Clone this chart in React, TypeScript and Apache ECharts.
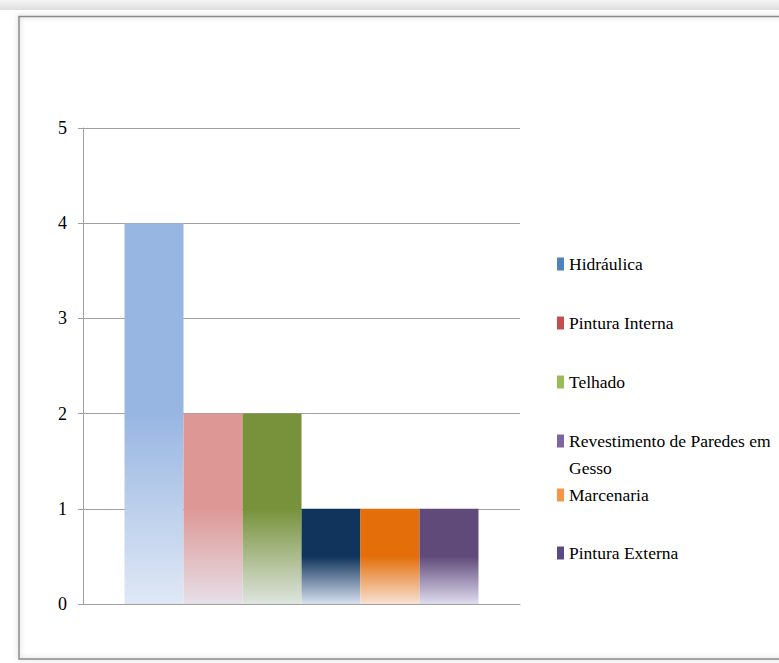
import React, { useEffect, useRef } from "react";
import * as echarts from "echarts";

const seriesNames = [
  "Hidráulica",
  "Pintura Interna",
  "Telhado",
  "Revestimento de Paredes em Gesso",
  "Marcenaria",
  "Pintura Externa",
];
const seriesValues = [4, 2, 2, 1, 1, 1];
const barTopColors = ["#98b6e2", "#dd9896", "#77923a", "#10345c", "#e46f0a", "#604a7a"];
const barBottomColors = ["#e0e8f5", "#e6dfe8", "#dfe5df", "#d8e1f0", "#f7e2d3", "#dfdcef"];
const legendColors = ["#4f81bd", "#c0504d", "#9bbb59", "#8064a2", "#f79646", "#5a4a82"];
const legendCenters = [264, 323, 382, 441, 495, 553];
const yTicks = { min: 0, max: 5, interval: 1 };

const WRAP_NAME = "Revestimento de Paredes em Gesso";
const WRAP_FIRST = "Revestimento de Paredes em";
const WRAP_SECOND = "Gesso";

export default function App() {
  const ref = useRef<HTMLDivElement>(null);
  useEffect(() => {
    if (!ref.current) return;
    const chart = echarts.init(ref.current, null, { renderer: "svg" });
    const font = "'Liberation Serif', 'Times New Roman', serif";

    const legends = seriesNames.map((name, i) => ({
      orient: "vertical",
      left: 557,
      top: legendCenters[i] - 13.5,
      padding: 0,
      itemWidth: 7,
      itemHeight: 13,
      itemGap: 0,
      icon: "rect",
      selectedMode: false,
      data: [{ name, itemStyle: { color: legendColors[i] } }],
      formatter: (n: string) => (n === WRAP_NAME ? WRAP_FIRST : n),
      textStyle: {
        fontFamily: font,
        fontSize: 17.5,
        color: "#000",
        lineHeight: 27,
      },
    }));

    const wrapIndex = seriesNames.indexOf(WRAP_NAME);

    chart.setOption({
      animation: false,
      backgroundColor: "#fff",
      graphic: [
        {
          type: "rect",
          shape: { x: 0, y: 0, width: 779, height: 10 },
          style: {
            fill: new echarts.graphic.LinearGradient(0, 0, 0, 1, [
              { offset: 0, color: "#f4f4f4" },
              { offset: 1, color: "#dedede" },
            ]),
          },
          silent: true,
        },
        {
          type: "rect",
          shape: { x: 19, y: 16.5, width: 800, height: 642.5 },
          style: {
            fill: "none",
            stroke: "#8a8a8a",
            lineWidth: 1.5,
            shadowBlur: 5,
            shadowColor: "rgba(0,0,0,0.25)",
          },
          silent: true,
        },
        {
          type: "text",
          x: 569,
          y: legendCenters[wrapIndex] + 27,
          style: {
            text: WRAP_SECOND,
            font: `17.5px ${font}`,
            fill: "#000",
            verticalAlign: "middle",
            align: "left",
          },
          silent: true,
        },
      ],
      legend: legends,
      grid: { left: 83, right: 259, top: 128, bottom: 59, containLabel: false },
      xAxis: {
        type: "category",
        data: [""],
        axisLine: { show: true, lineStyle: { color: "#a0a0a0", width: 1 } },
        axisTick: { show: false },
        axisLabel: { show: false },
      },
      yAxis: {
        type: "value",
        min: yTicks.min,
        max: yTicks.max,
        interval: yTicks.interval,
        axisLine: { show: true, lineStyle: { color: "#a0a0a0", width: 1 } },
        axisTick: { show: true, length: 5, lineStyle: { color: "#a0a0a0" } },
        splitLine: { show: true, lineStyle: { color: "#a0a0a0", width: 1 } },
        axisLabel: { fontFamily: font, fontSize: 18, color: "#000", margin: 16 },
      },
      series: seriesNames.map((name, i) => ({
        name,
        type: "bar",
        barGap: "0%",
        barCategoryGap: "19%",
        data: [seriesValues[i]],
        itemStyle: {
          color: new echarts.graphic.LinearGradient(0, 0, 0, 1, [
            { offset: 0, color: barTopColors[i] },
            { offset: 0.5, color: barTopColors[i] },
            { offset: 1, color: barBottomColors[i] },
          ]),
        },
      })),
    });
    return () => chart.dispose();
  }, []);
  return (
    <div
      ref={ref}
      style={{ position: "fixed", left: 0, top: 0, width: 779, height: 663 }}
    />
  );
}
